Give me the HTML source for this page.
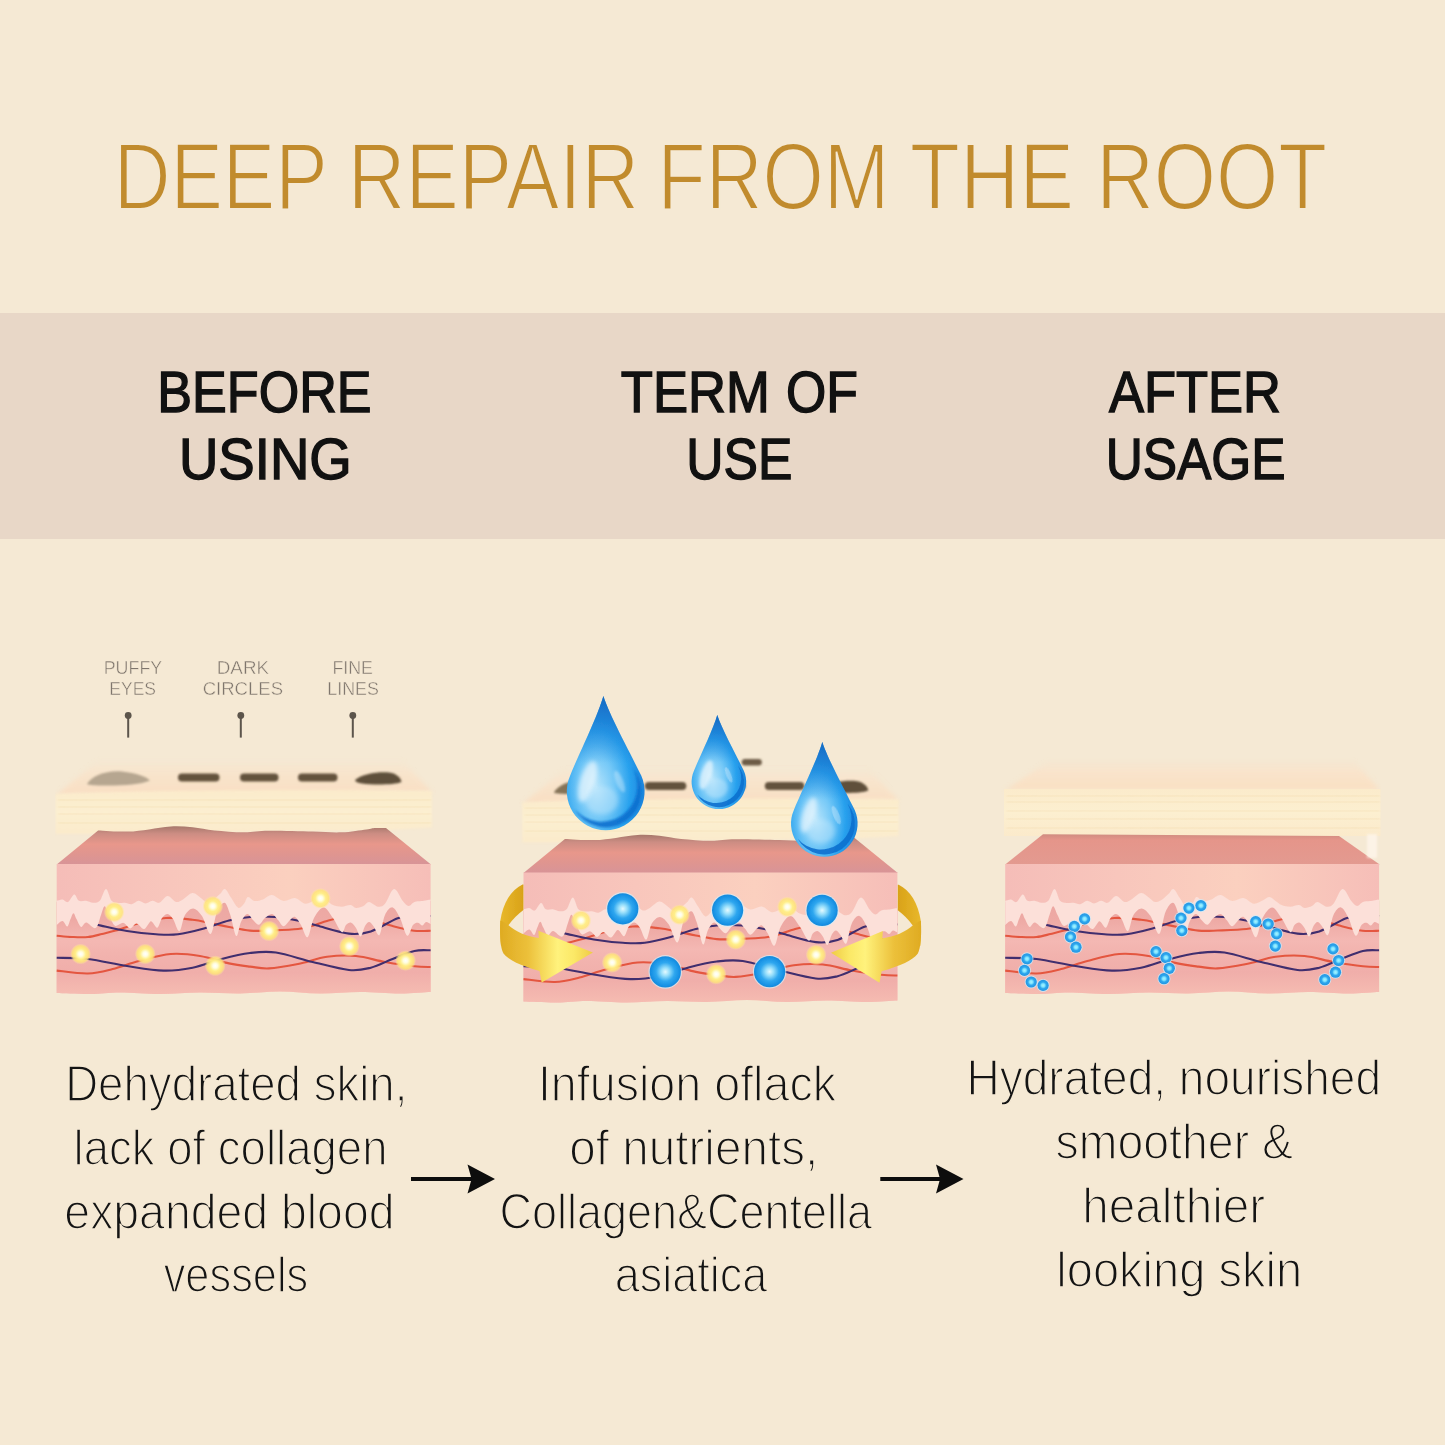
<!DOCTYPE html>
<html lang="en">
<head>
<meta charset="utf-8">
<title>Deep Repair From The Root</title>
<style>
 html,body{margin:0;padding:0;background:#f5e9d4;}
 body{width:1445px;height:1445px;overflow:hidden;font-family:'Liberation Sans', 'Noto Sans CJK SC', sans-serif;}
 #page{position:relative;width:1445px;height:1445px;background:#f5e9d4;overflow:hidden;}
 #band{position:absolute;left:0;top:313px;width:1445px;height:225.5px;background:#e8d7c7;}
 svg{position:absolute;left:0;top:0;display:block;}
 svg text{font-family:'Liberation Sans', 'Noto Sans CJK SC', sans-serif;white-space:pre;}
</style>
</head>
<body>
<div id="page">
<div id="band"></div>
<svg width="1445" height="1445" viewBox="0 0 1445 1445">

<defs>
 <linearGradient id="gFront" x1="0" y1="0" x2="1" y2="0">
  <stop offset="0" stop-color="#f5bdb8"/><stop offset=".3" stop-color="#f8c6bc"/><stop offset=".62" stop-color="#fbd0bf"/><stop offset="1" stop-color="#f6beb8"/>
 </linearGradient>
 <linearGradient id="gDark" x1="0" y1="889.0" x2="0" y2="993.0" gradientUnits="userSpaceOnUse">
  <stop offset="0" stop-color="#eba5a0"/><stop offset=".3" stop-color="#eeaaa5"/><stop offset=".5" stop-color="#f4b8b3"/><stop offset=".62" stop-color="#f2b3ae"/><stop offset=".8" stop-color="#f0aeaa"/><stop offset="1" stop-color="#f5bbb1"/>
 </linearGradient>
 <linearGradient id="gPinkTop" x1="0" y1="826" x2="0" y2="864" gradientUnits="userSpaceOnUse">
  <stop offset="0" stop-color="#a5766a"/><stop offset=".2" stop-color="#cc8d83"/><stop offset=".48" stop-color="#e8978b"/><stop offset=".75" stop-color="#df9590"/><stop offset="1" stop-color="#d89497"/>
 </linearGradient>
 <linearGradient id="gPinkTop3" x1="0" y1="834" x2="0" y2="864" gradientUnits="userSpaceOnUse">
  <stop offset="0" stop-color="#cf8c80"/><stop offset=".2" stop-color="#e5958a"/><stop offset="1" stop-color="#e39a90"/>
 </linearGradient>
 <linearGradient id="gEpiTop" x1="0" y1="758" x2="0" y2="794" gradientUnits="userSpaceOnUse">
  <stop offset="0" stop-color="#f7e6d0" stop-opacity="0"/><stop offset=".4" stop-color="#f8e4cc"/><stop offset="1" stop-color="#f9dfc3"/>
 </linearGradient>
 <linearGradient id="gEpiTop3" x1="0" y1="758" x2="0" y2="790" gradientUnits="userSpaceOnUse">
  <stop offset="0" stop-color="#f8e2ca" stop-opacity="0"/><stop offset=".5" stop-color="#f9e3ca"/><stop offset="1" stop-color="#f9e0c3"/>
 </linearGradient>
 <linearGradient id="gEpiFront" x1="0" y1="0" x2="0" y2="1">
  <stop offset="0" stop-color="#fbebcb"/><stop offset=".5" stop-color="#fcefd0"/><stop offset="1" stop-color="#fbeacb"/>
 </linearGradient>
 <radialGradient id="gYellow">
  <stop offset="0" stop-color="#ffffff"/><stop offset=".22" stop-color="#fffde0"/><stop offset=".5" stop-color="#ffee88"/><stop offset=".78" stop-color="#ffe47a" stop-opacity=".85"/><stop offset="1" stop-color="#ffe9a0" stop-opacity="0"/>
 </radialGradient>
 <radialGradient id="gBall" cx=".5" cy=".5" r=".5">
  <stop offset="0" stop-color="#e4faff"/><stop offset=".26" stop-color="#98dffb"/><stop offset=".6" stop-color="#2fa7ef"/><stop offset=".9" stop-color="#1891e4"/><stop offset="1" stop-color="#178adc"/>
 </radialGradient>
 <radialGradient id="gBead">
  <stop offset="0" stop-color="#a8f2ff"/><stop offset=".3" stop-color="#7fe4ff"/><stop offset=".58" stop-color="#2fa8ee"/><stop offset="1" stop-color="#2394e2"/>
 </radialGradient>
 <radialGradient id="gDrop" cx=".38" cy=".68" r=".64">
  <stop offset="0" stop-color="#b6e4fb"/><stop offset=".36" stop-color="#74c8f7"/><stop offset=".68" stop-color="#29a2ee"/><stop offset="1" stop-color="#1a80da"/>
 </radialGradient>
 <linearGradient id="gDropTip" x1="0" y1="0" x2="0" y2="1">
  <stop offset="0" stop-color="#1768c0" stop-opacity=".85"/><stop offset=".3" stop-color="#1b7bd2" stop-opacity=".35"/><stop offset=".5" stop-color="#1b7bd2" stop-opacity="0"/>
 </linearGradient>
 <linearGradient id="gGoldF" x1="0" y1="0" x2="1" y2="0">
  <stop offset="0" stop-color="#dfab22"/><stop offset=".3" stop-color="#ecc03a"/><stop offset=".62" stop-color="#fff27c"/><stop offset=".8" stop-color="#fbe866"/><stop offset="1" stop-color="#efcb45"/>
 </linearGradient>
 <linearGradient id="gGoldB" x1="0" y1="0" x2="1" y2="0">
  <stop offset="0" stop-color="#e8b82c"/><stop offset="1" stop-color="#d9a218"/>
 </linearGradient>
 <filter id="soft" x="0" y="0" width="100%" height="100%"><feGaussianBlur stdDeviation="0.45"/></filter>
 <filter id="b1" x="-20%" y="-20%" width="140%" height="140%"><feGaussianBlur stdDeviation="1"/></filter>
 <filter id="b06" x="-20%" y="-20%" width="140%" height="140%"><feGaussianBlur stdDeviation="0.6"/></filter>
 <filter id="b2" x="-20%" y="-30%" width="140%" height="160%"><feGaussianBlur stdDeviation="2"/></filter>
 <filter id="b3" x="-30%" y="-30%" width="160%" height="160%"><feGaussianBlur stdDeviation="3"/></filter>

 <!-- lower (dermis) part of a skin block, shared by the three illustrations -->
 <g id="dermis">
  <path d="M56.7,864.0 L430.6,864.0 L430.6,992.0 C425.5,992.2 411.8,993.5 400.0,993.5 C388.2,993.5 373.3,992.0 360.0,992.0 C346.7,992.0 333.3,993.6 320.0,993.5 C306.7,993.4 293.3,991.5 280.0,991.5 C266.7,991.5 253.3,993.3 240.0,993.5 C226.7,993.7 213.3,992.4 200.0,992.5 C186.7,992.6 173.3,994.0 160.0,994.0 C146.7,994.0 131.7,992.5 120.0,992.5 C108.3,992.5 100.5,993.9 90.0,994.0 C79.5,994.1 62.2,993.2 56.7,993.0 Z" fill="url(#gFront)"/>
  <path d="M56.7,902.3 C57.7,902.1 60.6,900.7 62.5,900.9 C64.4,901.1 66.0,904.3 68.0,903.5 C70.0,902.7 72.4,896.2 74.2,896.0 C76.0,895.8 77.0,901.2 79.0,902.3 C81.0,903.3 83.7,902.0 86.0,902.3 C88.3,902.6 90.6,904.3 92.9,904.3 C95.2,904.3 97.6,904.6 99.8,902.3 C102.0,900.0 104.0,890.5 106.0,890.5 C108.0,890.5 109.6,900.0 111.6,902.3 C113.6,904.6 115.8,904.2 118.0,904.5 C120.2,904.8 122.4,904.1 124.7,904.3 C127.0,904.5 129.4,906.0 131.7,905.7 C134.0,905.4 136.3,902.4 138.6,902.3 C140.9,902.2 143.2,905.0 145.5,905.0 C147.8,905.0 150.1,902.4 152.4,902.3 C154.7,902.2 156.8,905.1 159.3,904.3 C161.8,903.5 164.8,897.6 167.6,897.5 C170.4,897.4 173.4,902.9 176.0,903.5 C178.6,904.1 180.1,902.4 182.9,900.9 C185.7,899.4 189.6,894.7 192.6,894.5 C195.6,894.3 198.6,898.0 200.9,899.5 C203.2,901.0 204.4,903.2 206.4,903.5 C208.4,903.8 210.7,902.9 213.0,901.5 C215.3,900.1 218.2,897.1 220.2,895.3 C222.2,893.5 223.2,889.8 225.0,890.5 C226.8,891.2 229.1,896.4 231.3,899.5 C233.5,902.6 236.1,908.2 238.2,909.2 C240.3,910.2 242.2,907.3 243.8,905.5 C245.4,903.7 246.2,899.0 248.0,898.5 C249.8,898.0 252.0,902.1 254.5,902.5 C257.0,902.9 260.1,901.9 263.0,900.9 C265.9,899.9 268.6,896.2 272.0,896.5 C275.4,896.8 279.8,902.0 283.6,902.5 C287.4,903.0 291.4,899.0 295.0,899.5 C298.6,900.0 302.1,905.0 305.4,905.3 C308.7,905.6 312.4,902.6 315.0,901.5 C317.6,900.4 319.0,898.3 321.0,898.5 C323.0,898.7 325.0,901.2 327.0,902.5 C329.0,903.8 330.6,905.5 333.0,906.5 C335.4,907.5 338.8,908.2 341.7,908.2 C344.6,908.2 348.1,906.3 350.5,906.5 C352.9,906.7 353.8,909.3 356.0,909.5 C358.2,909.7 361.3,908.5 363.5,907.5 C365.7,906.5 366.6,903.4 369.0,903.5 C371.4,903.6 375.3,907.9 378.0,908.2 C380.7,908.5 382.3,908.2 385.0,905.3 C387.7,902.3 391.0,891.0 394.0,890.5 C397.0,890.0 400.4,899.7 402.8,902.5 C405.2,905.3 406.7,907.3 408.6,907.5 C410.5,907.7 412.2,904.3 414.4,903.5 C416.6,902.7 419.0,902.9 421.7,902.5 C424.4,902.1 429.1,901.2 430.6,900.9 L430.6,992.0 C425.5,992.2 411.8,993.5 400.0,993.5 C388.2,993.5 373.3,992.0 360.0,992.0 C346.7,992.0 333.3,993.6 320.0,993.5 C306.7,993.4 293.3,991.5 280.0,991.5 C266.7,991.5 253.3,993.3 240.0,993.5 C226.7,993.7 213.3,992.4 200.0,992.5 C186.7,992.6 173.3,994.0 160.0,994.0 C146.7,994.0 131.7,992.5 120.0,992.5 C108.3,992.5 100.5,993.9 90.0,994.0 C79.5,994.1 62.2,993.2 56.7,993.0 Z" fill="url(#gDark)"/>
  <g fill="none" stroke-width="2.1" stroke-linecap="butt" filter="url(#b06)">
   <path d="M56.7,935.7 C59.2,935.9 66.8,936.8 72.0,937.0 C77.2,937.2 83.0,937.5 88.0,937.0 C93.0,936.5 97.4,935.1 102.0,934.0 C106.6,932.9 109.3,932.4 115.6,930.6 C121.9,928.8 131.6,925.1 140.0,923.0 C148.4,920.9 157.2,918.5 166.0,918.0 C174.8,917.5 185.3,919.0 192.6,919.8 C199.9,920.6 203.9,921.8 210.0,923.0 C216.1,924.2 222.3,925.7 229.0,927.0 C235.7,928.3 243.3,930.0 250.0,930.6 C256.7,931.2 261.0,930.8 269.0,930.5 C277.0,930.2 290.3,929.9 298.0,929.0 C305.7,928.1 310.2,926.3 315.0,925.0 C319.8,923.7 322.0,922.3 327.0,921.0 C332.0,919.7 338.7,917.5 345.0,917.0 C351.3,916.5 357.3,916.6 365.0,918.0 C372.7,919.4 382.8,923.5 391.0,925.6 C399.2,927.7 407.4,929.9 414.0,930.7 C420.6,931.6 427.8,930.7 430.6,930.7" stroke="#e4573f"/>
   <path d="M96.0,924.6 C96.8,924.8 95.8,924.5 101.0,925.6 C106.2,926.7 117.8,929.5 127.0,931.0 C136.2,932.5 147.5,933.8 156.0,934.3 C164.5,934.8 170.0,935.3 178.0,934.3 C186.0,933.3 195.5,930.8 204.0,928.5 C212.5,926.2 221.3,922.4 229.0,920.5 C236.7,918.6 242.3,917.6 250.0,917.0 C257.7,916.4 266.7,916.3 275.0,917.0 C283.3,917.7 293.0,919.6 300.0,921.0 C307.0,922.4 308.8,923.5 317.0,925.6 C325.2,927.7 340.0,932.6 349.0,933.6 C358.0,934.6 362.7,934.0 370.8,931.4 C378.9,928.8 390.3,921.0 397.7,918.3 C405.1,915.6 409.5,915.4 415.0,915.0 C420.5,914.6 428.0,915.8 430.6,916.0" stroke="#402e6e"/>
   <path d="M56.7,970.6 C61.9,971.1 78.7,973.8 88.0,973.5 C97.3,973.2 104.2,971.1 112.7,969.0 C121.2,966.9 129.1,963.5 138.8,961.0 C148.5,958.5 160.6,954.8 170.8,954.0 C181.0,953.2 190.3,954.4 200.0,956.0 C209.7,957.6 220.7,961.6 229.0,963.4 C237.3,965.2 243.3,965.8 250.0,966.6 C256.7,967.4 261.0,968.8 269.0,968.4 C277.0,968.0 288.3,965.9 298.0,964.0 C307.7,962.1 317.3,958.1 327.0,956.8 C336.7,955.5 346.3,955.1 356.0,956.0 C365.7,956.9 375.3,960.3 385.0,962.0 C394.7,963.7 406.8,965.5 414.4,966.3 C422.0,967.1 427.9,966.9 430.6,967.0" stroke="#e4573f"/>
   <path d="M56.7,957.8 C61.9,958.0 76.3,957.6 88.0,959.0 C99.7,960.4 114.4,964.1 127.0,966.0 C139.6,967.9 152.6,970.3 163.5,970.6 C174.4,970.9 182.9,969.6 192.6,967.7 C202.3,965.8 212.1,961.5 221.7,959.0 C231.3,956.5 240.9,954.1 250.0,953.0 C259.1,951.9 265.6,951.0 276.0,952.5 C286.4,954.0 300.5,959.1 312.7,962.0 C324.9,964.9 339.3,969.0 349.0,970.0 C358.7,971.0 363.5,969.5 370.8,967.7 C378.1,965.9 385.3,961.8 392.6,959.0 C399.9,956.2 408.1,952.5 414.4,951.0 C420.7,949.5 427.9,950.4 430.6,950.3" stroke="#402e6e"/>
  </g>
  <path d="M56.7,900.8 C57.7,900.6 60.6,899.2 62.5,899.4 C64.4,899.6 66.0,902.8 68.0,902.0 C70.0,901.2 72.4,894.7 74.2,894.5 C76.0,894.3 77.0,899.8 79.0,900.8 C81.0,901.8 83.7,900.5 86.0,900.8 C88.3,901.1 90.6,902.8 92.9,902.8 C95.2,902.8 97.6,903.1 99.8,900.8 C102.0,898.5 104.0,889.0 106.0,889.0 C108.0,889.0 109.6,898.5 111.6,900.8 C113.6,903.1 115.8,902.7 118.0,903.0 C120.2,903.3 122.4,902.6 124.7,902.8 C127.0,903.0 129.4,904.5 131.7,904.2 C134.0,903.9 136.3,900.9 138.6,900.8 C140.9,900.7 143.2,903.5 145.5,903.5 C147.8,903.5 150.1,900.9 152.4,900.8 C154.7,900.7 156.8,903.6 159.3,902.8 C161.8,902.0 164.8,896.1 167.6,896.0 C170.4,895.9 173.4,901.4 176.0,902.0 C178.6,902.6 180.1,900.9 182.9,899.4 C185.7,897.9 189.6,893.2 192.6,893.0 C195.6,892.8 198.6,896.5 200.9,898.0 C203.2,899.5 204.4,901.7 206.4,902.0 C208.4,902.3 210.7,901.4 213.0,900.0 C215.3,898.6 218.2,895.6 220.2,893.8 C222.2,892.0 223.2,888.3 225.0,889.0 C226.8,889.7 229.1,894.9 231.3,898.0 C233.5,901.1 236.1,906.7 238.2,907.7 C240.3,908.7 242.2,905.8 243.8,904.0 C245.4,902.2 246.2,897.5 248.0,897.0 C249.8,896.5 252.0,900.6 254.5,901.0 C257.0,901.4 260.1,900.4 263.0,899.4 C265.9,898.4 268.6,894.7 272.0,895.0 C275.4,895.3 279.8,900.5 283.6,901.0 C287.4,901.5 291.4,897.5 295.0,898.0 C298.6,898.5 302.1,903.5 305.4,903.8 C308.7,904.1 312.4,901.1 315.0,900.0 C317.6,898.9 319.0,896.8 321.0,897.0 C323.0,897.2 325.0,899.7 327.0,901.0 C329.0,902.3 330.6,904.0 333.0,905.0 C335.4,906.0 338.8,906.7 341.7,906.7 C344.6,906.7 348.1,904.8 350.5,905.0 C352.9,905.2 353.8,907.8 356.0,908.0 C358.2,908.2 361.3,907.0 363.5,906.0 C365.7,905.0 366.6,901.9 369.0,902.0 C371.4,902.1 375.3,906.4 378.0,906.7 C380.7,907.0 382.3,906.8 385.0,903.8 C387.7,900.8 391.0,889.5 394.0,889.0 C397.0,888.5 400.4,898.2 402.8,901.0 C405.2,903.8 406.7,905.8 408.6,906.0 C410.5,906.2 412.2,902.8 414.4,902.0 C416.6,901.2 419.0,901.4 421.7,901.0 C424.4,900.6 429.1,899.7 430.6,899.4 L430.6,924.0 C429.8,923.7 427.4,921.7 426.0,922.0 C424.6,922.3 423.7,925.5 422.4,925.6 C421.1,925.7 419.6,922.8 418.0,922.7 C416.4,922.6 414.8,922.8 413.0,925.0 C411.2,927.2 409.3,936.9 407.1,935.7 C404.9,934.5 402.4,922.7 400.0,918.0 C397.6,913.3 395.1,907.9 392.6,907.4 C390.1,906.9 387.2,910.4 385.0,915.0 C382.8,919.6 381.3,933.0 379.5,935.0 C377.7,937.0 375.7,929.2 374.0,927.0 C372.3,924.8 370.8,922.2 369.3,922.0 C367.8,921.8 366.4,923.6 365.0,926.0 C363.6,928.4 362.1,936.2 360.6,936.5 C359.1,936.8 357.6,930.3 356.0,928.0 C354.4,925.7 352.9,923.2 351.2,922.7 C349.5,922.2 347.6,923.4 346.0,925.0 C344.4,926.6 343.9,933.3 341.7,932.1 C339.5,930.9 336.0,922.1 333.0,918.0 C330.0,913.9 326.8,907.4 323.6,907.4 C320.4,907.4 316.7,913.0 314.0,918.0 C311.3,923.0 309.8,936.0 307.6,937.2 C305.4,938.4 303.1,928.4 301.0,925.0 C298.9,921.6 297.0,917.7 295.2,916.9 C293.4,916.1 291.9,918.4 290.0,920.0 C288.1,921.6 285.6,926.3 283.6,926.3 C281.6,926.3 279.9,922.0 278.0,920.0 C276.1,918.0 274.2,914.3 272.0,914.0 C269.8,913.7 267.2,916.2 265.0,918.0 C262.8,919.8 260.9,924.5 258.9,924.8 C256.9,925.1 254.9,921.8 253.0,920.0 C251.1,918.2 249.3,913.7 247.3,914.0 C245.3,914.3 242.8,918.3 241.0,922.0 C239.2,925.7 238.0,937.3 236.2,936.0 C234.4,934.7 232.0,919.5 230.0,914.0 C228.0,908.5 226.6,903.1 224.4,902.8 C222.2,902.5 219.3,906.8 217.0,912.0 C214.7,917.2 213.1,933.3 210.6,934.0 C208.1,934.7 204.9,920.3 202.0,916.0 C199.1,911.7 196.1,908.6 193.3,908.4 C190.5,908.2 187.3,911.2 185.0,915.0 C182.7,918.8 181.4,930.5 179.4,931.2 C177.4,931.9 175.0,921.9 173.0,919.0 C171.0,916.1 169.4,914.1 167.6,913.9 C165.8,913.7 163.7,915.7 162.0,918.0 C160.3,920.3 159.1,927.2 157.3,927.8 C155.5,928.4 153.2,921.3 151.0,921.5 C148.8,921.7 146.5,928.8 144.1,929.1 C141.7,929.5 138.8,923.7 136.5,923.6 C134.2,923.5 132.5,928.5 130.3,928.4 C128.1,928.3 126.0,923.3 123.4,922.9 C120.9,922.5 117.4,927.0 115.0,925.7 C112.6,924.4 110.7,918.2 109.0,915.0 C107.3,911.8 106.0,906.3 104.7,906.3 C103.4,906.3 102.5,911.4 101.0,915.0 C99.5,918.6 98.2,926.8 95.7,928.0 C93.2,929.2 88.7,922.7 86.3,922.5 C83.9,922.3 82.7,927.6 81.1,927.0 C79.5,926.4 77.8,921.3 76.5,919.0 C75.2,916.7 74.5,913.2 73.5,913.2 C72.5,913.2 71.5,916.8 70.5,919.0 C69.5,921.2 68.6,926.2 67.3,926.5 C66.0,926.8 64.3,921.2 62.5,921.0 C60.7,920.8 57.7,924.3 56.7,925.0 Z" fill="#fce0d9" filter="url(#b06)"/>
 </g>

 <!-- water drop, unit: tip at (-0.06,0), circle r=1 centred at (0,2.45) -->
 <g id="drop">
  <path id="dropShape" d="M-0.06,0 C0.1,0.5 0.55,1.3 0.913,2.042 A1,1 0 1 1 -0.913,2.042 C-0.6,1.3 -0.2,0.5 -0.06,0 Z" fill="url(#gDrop)"/>
  <path d="M-0.06,0 C0.1,0.5 0.55,1.3 0.913,2.042 A1,1 0 1 1 -0.913,2.042 C-0.6,1.3 -0.2,0.5 -0.06,0 Z" fill="url(#gDropTip)"/>
  <path d="M0.70,1.86 A0.92,0.92 0 1 1 -0.80,2.91 A0.92,0.92 0 0 0 0.70,1.86 Z" fill="#0e70cf" opacity=".9" filter="url(#bd)"/>
  <ellipse cx="-0.42" cy="2.2" rx="0.2" ry="0.55" fill="#ffffff" opacity=".6" transform="rotate(17 -0.44 2.05)" filter="url(#bd2)"/>
  <ellipse cx="-0.1" cy="2.68" rx="0.42" ry="0.36" fill="#c8eafd" opacity=".4" filter="url(#bd2)"/>
  <ellipse cx="0.36" cy="2.2" rx="0.09" ry="0.3" fill="#ffffff" opacity=".3" transform="rotate(-22 0.36 2.2)" filter="url(#bd)"/>
 </g>
 <filter id="bd" x="-30%" y="-30%" width="160%" height="160%"><feGaussianBlur stdDeviation="0.022"/></filter>
 <filter id="bd2" x="-40%" y="-40%" width="180%" height="180%"><feGaussianBlur stdDeviation="0.06"/></filter>
</defs>
<g id="art" filter="url(#soft)"><g transform="translate(0,0)"><path d="M56,795 L98,761 L402,761 L432,792 Z" fill="url(#gEpiTop)" filter="url(#b2)"/><path d="M55.5,794 C120,791 300,789 432,791 L432,827.5 L386,830 L98,834 L55.5,834 Z" fill="url(#gEpiFront)" filter="url(#b1)"/><path d="M58,800 C150,798.5 260,801.2 431,799.5" stroke="#f1d7a8" stroke-width="2.4" fill="none" opacity=".32" filter="url(#b1)"/><path d="M58,807 C150,805.5 260,808.2 431,806.5" stroke="#f1d7a8" stroke-width="2.4" fill="none" opacity=".32" filter="url(#b1)"/><path d="M58,814 C150,812.5 260,815.2 431,813.5" stroke="#f1d7a8" stroke-width="2.4" fill="none" opacity=".32" filter="url(#b1)"/><path d="M58,823 C150,821.5 260,824.2 431,822.5" stroke="#f1d7a8" stroke-width="2.4" fill="none" opacity=".32" filter="url(#b1)"/></g><g transform="translate(0,0)" filter="url(#b1)"><path d="M87,784 C92,775 108,770 122,771.5 C136,773 147,777 150,780.5 C140,785 118,786 100,785.5 C93,785.3 88,785 87,784 Z" fill="#b6a690"/><rect x="178" y="773.5" width="41.5" height="8" rx="4" fill="#64533e"/><rect x="240" y="773.5" width="38.5" height="8" rx="4" fill="#64533e"/><rect x="298" y="773.5" width="39.5" height="8" rx="4" fill="#64533e"/><path d="M355,780 C362,774 378,771.5 389,772.5 C397,773.5 401,778 401.5,782 C395,785 372,785 362,783.5 C358,783 355,781.5 355,780 Z" fill="#5f4f3b"/></g><g transform="translate(0,0)"><path d="M98.1,830.4 C102.9,830.6 118.7,831.8 127.2,831.6 C135.7,831.4 141.7,830.2 149.0,829.4 C156.3,828.5 163.5,826.9 170.8,826.5 C178.1,826.1 185.3,826.6 192.6,827.2 C199.9,827.9 205.9,829.5 214.4,830.4 C222.9,831.2 234.4,832.2 243.5,832.3 C252.6,832.4 257.5,830.9 269.0,830.8 C280.5,830.7 300.6,831.4 312.7,831.6 C324.8,831.9 332.8,832.7 341.7,832.3 C350.6,831.9 360.8,830.1 366.4,829.4 C372.0,828.7 371.9,828.2 375.2,828.0 C378.5,827.8 384.2,828.0 386.0,828.0 L431,864.5 L56.7,864.5 Z" fill="url(#gPinkTop)"/></g><use href="#dermis"/><circle cx="114.2" cy="912.0" r="10.5" fill="url(#gYellow)"/><circle cx="212.8" cy="906.2" r="10.5" fill="url(#gYellow)"/><circle cx="320.5" cy="898.4" r="10.5" fill="url(#gYellow)"/><circle cx="269.0" cy="931.0" r="10.5" fill="url(#gYellow)"/><circle cx="349.3" cy="946.3" r="10.5" fill="url(#gYellow)"/><circle cx="80.6" cy="954.0" r="10.5" fill="url(#gYellow)"/><circle cx="145.3" cy="954.0" r="10.5" fill="url(#gYellow)"/><circle cx="215.2" cy="965.8" r="10.5" fill="url(#gYellow)"/><circle cx="405.6" cy="960.6" r="10.5" fill="url(#gYellow)"/><g transform="translate(466.8,8.5)"><path d="M56,795 L98,761 L402,761 L432,792 Z" fill="url(#gEpiTop)" filter="url(#b2)"/><path d="M55.5,794 C120,791 300,789 432,791 L432,827.5 L386,830 L98,834 L55.5,834 Z" fill="url(#gEpiFront)" filter="url(#b1)"/><path d="M58,800 C150,798.5 260,801.2 431,799.5" stroke="#f1d7a8" stroke-width="2.4" fill="none" opacity=".32" filter="url(#b1)"/><path d="M58,807 C150,805.5 260,808.2 431,806.5" stroke="#f1d7a8" stroke-width="2.4" fill="none" opacity=".32" filter="url(#b1)"/><path d="M58,814 C150,812.5 260,815.2 431,813.5" stroke="#f1d7a8" stroke-width="2.4" fill="none" opacity=".32" filter="url(#b1)"/><path d="M58,823 C150,821.5 260,824.2 431,822.5" stroke="#f1d7a8" stroke-width="2.4" fill="none" opacity=".32" filter="url(#b1)"/></g><g transform="translate(466.8,8.5)" filter="url(#b1)"><path d="M87,784 C92,775 108,770 122,771.5 C136,773 147,777 150,780.5 C140,785 118,786 100,785.5 C93,785.3 88,785 87,784 Z" fill="#857359"/><rect x="178" y="773.5" width="41.5" height="8" rx="4" fill="#64533e"/><rect x="240" y="773.5" width="38.5" height="8" rx="4" fill="#64533e"/><rect x="298" y="773.5" width="39.5" height="8" rx="4" fill="#64533e"/><path d="M355,780 C362,774 378,771.5 389,772.5 C397,773.5 401,778 401.5,782 C395,785 372,785 362,783.5 C358,783 355,781.5 355,780 Z" fill="#5f4f3b"/><rect x="275" y="750.5" width="20" height="6.5" rx="3.2" fill="#6d5c47"/></g><g transform="translate(466.8,8.5)"><path d="M98.1,830.4 C102.9,830.6 118.7,831.8 127.2,831.6 C135.7,831.4 141.7,830.2 149.0,829.4 C156.3,828.5 163.5,826.9 170.8,826.5 C178.1,826.1 185.3,826.6 192.6,827.2 C199.9,827.9 205.9,829.5 214.4,830.4 C222.9,831.2 234.4,832.2 243.5,832.3 C252.6,832.4 257.5,830.9 269.0,830.8 C280.5,830.7 300.6,831.4 312.7,831.6 C324.8,831.9 332.8,832.7 341.7,832.3 C350.6,831.9 360.8,830.1 366.4,829.4 C372.0,828.7 371.9,828.2 375.2,828.0 C378.5,827.8 384.2,828.0 386.0,828.0 L431,864.5 L56.7,864.5 Z" fill="url(#gPinkTop)"/></g><use href="#dermis" transform="translate(466.8,8.5)"/><circle cx="581.0" cy="920.5" r="10.5" fill="url(#gYellow)"/><circle cx="679.6" cy="914.7" r="10.5" fill="url(#gYellow)"/><circle cx="787.3" cy="906.9" r="10.5" fill="url(#gYellow)"/><circle cx="735.8" cy="939.5" r="10.5" fill="url(#gYellow)"/><circle cx="816.1" cy="954.8" r="10.5" fill="url(#gYellow)"/><circle cx="612.1" cy="962.5" r="10.5" fill="url(#gYellow)"/><circle cx="716.2" cy="974.2" r="10.5" fill="url(#gYellow)"/><circle cx="622.8" cy="908.8" r="16.8" fill="#d6ecf7" opacity=".7"/><circle cx="622.8" cy="908.8" r="15.6" fill="url(#gBall)"/><circle cx="727.6" cy="910.2" r="16.8" fill="#d6ecf7" opacity=".7"/><circle cx="727.6" cy="910.2" r="15.6" fill="url(#gBall)"/><circle cx="822.1" cy="910.4" r="16.8" fill="#d6ecf7" opacity=".7"/><circle cx="822.1" cy="910.4" r="15.6" fill="url(#gBall)"/><circle cx="665.3" cy="971.9" r="16.8" fill="#d6ecf7" opacity=".7"/><circle cx="665.3" cy="971.9" r="15.6" fill="url(#gBall)"/><circle cx="769.6" cy="971.7" r="16.8" fill="#d6ecf7" opacity=".7"/><circle cx="769.6" cy="971.7" r="15.6" fill="url(#gBall)"/><g><path d="M522.5,884.5 C511,890 503,903 500.3,921 C500,930 500.2,938 501,946 L508.4,925.3 C513,919 518,914 523.4,910 L523.4,884.5 Z" fill="url(#gGoldB)"/><path d="M500.3,921 C499.5,936 500.5,948 503.5,953.5 C509,960 520,965.5 539.5,971 L541.7,982.5 L592.9,952.5 L538.4,930.8 L538.8,938 C527,936.5 515,931.5 508.2,925 C504,922 501,920 500.3,921 Z" fill="url(#gGoldF)"/></g><g transform="translate(1421.2,0.2) scale(-1,1)"><path d="M522.5,884.5 C511,890 503,903 500.3,921 C500,930 500.2,938 501,946 L508.4,925.3 C513,919 518,914 523.4,910 L523.4,884.5 Z" fill="url(#gGoldB)"/><path d="M500.3,921 C499.5,936 500.5,948 503.5,953.5 C509,960 520,965.5 539.5,971 L541.7,982.5 L590.2,952.5 L538.4,930.8 L538.8,938 C527,936.5 515,931.5 508.2,925 C504,922 501,920 500.3,921 Z" fill="url(#gGoldF)"/></g><use href="#drop" transform="translate(605.7,696) scale(38.9)"/><use href="#drop" transform="translate(718.9,714.9) scale(27.3)"/><use href="#drop" transform="translate(824.3,741.9) scale(33.3)"/><g transform="translate(948.5,0)"><path d="M56.7,790 L99,762 L406,762 L431.5,790 Z" fill="url(#gEpiTop3)" filter="url(#b2)"/><rect x="55.5" y="789" width="376.5" height="47" fill="url(#gEpiFront)" filter="url(#b06)"/><path d="M58,796 C150,794.5 260,797.2 431,795.5" stroke="#f1d7a8" stroke-width="2.4" fill="none" opacity=".32" filter="url(#b1)"/><path d="M58,802 C150,800.5 260,803.2 431,801.5" stroke="#f1d7a8" stroke-width="2.4" fill="none" opacity=".32" filter="url(#b1)"/><path d="M58,811 C150,809.5 260,812.2 431,810.5" stroke="#f1d7a8" stroke-width="2.4" fill="none" opacity=".32" filter="url(#b1)"/><path d="M58,819 C150,817.5 260,820.2 431,818.5" stroke="#f1d7a8" stroke-width="2.4" fill="none" opacity=".32" filter="url(#b1)"/><path d="M58,828 C150,826.5 260,829.2 431,827.5" stroke="#f1d7a8" stroke-width="2.4" fill="none" opacity=".32" filter="url(#b1)"/></g><g transform="translate(948.5,0)"><path d="M94.5,834.3 L390.5,836 L431.2,864.5 L56.7,864.5 Z" fill="url(#gPinkTop3)"/></g><rect x="1367" y="834" width="10" height="24" fill="#fff7ee" opacity=".7" filter="url(#b1)"/><use href="#dermis" transform="translate(948.5,0)"/><circle cx="1084.6" cy="918.9" r="6.5" fill="#cfeaf6" opacity=".8"/><circle cx="1084.6" cy="918.9" r="5.6" fill="url(#gBead)"/><circle cx="1074.3" cy="926.4" r="6.5" fill="#cfeaf6" opacity=".8"/><circle cx="1074.3" cy="926.4" r="5.6" fill="url(#gBead)"/><circle cx="1070.5" cy="936.9" r="6.5" fill="#cfeaf6" opacity=".8"/><circle cx="1070.5" cy="936.9" r="5.6" fill="url(#gBead)"/><circle cx="1076.0" cy="947.2" r="6.5" fill="#cfeaf6" opacity=".8"/><circle cx="1076.0" cy="947.2" r="5.6" fill="url(#gBead)"/><circle cx="1027.0" cy="958.8" r="6.5" fill="#cfeaf6" opacity=".8"/><circle cx="1027.0" cy="958.8" r="5.6" fill="url(#gBead)"/><circle cx="1024.5" cy="970.4" r="6.5" fill="#cfeaf6" opacity=".8"/><circle cx="1024.5" cy="970.4" r="5.6" fill="url(#gBead)"/><circle cx="1031.2" cy="982.0" r="6.5" fill="#cfeaf6" opacity=".8"/><circle cx="1031.2" cy="982.0" r="5.6" fill="url(#gBead)"/><circle cx="1043.1" cy="985.4" r="6.5" fill="#cfeaf6" opacity=".8"/><circle cx="1043.1" cy="985.4" r="5.6" fill="url(#gBead)"/><circle cx="1200.9" cy="905.6" r="6.5" fill="#cfeaf6" opacity=".8"/><circle cx="1200.9" cy="905.6" r="5.6" fill="url(#gBead)"/><circle cx="1188.9" cy="908.1" r="6.5" fill="#cfeaf6" opacity=".8"/><circle cx="1188.9" cy="908.1" r="5.6" fill="url(#gBead)"/><circle cx="1181.0" cy="918.1" r="6.5" fill="#cfeaf6" opacity=".8"/><circle cx="1181.0" cy="918.1" r="5.6" fill="url(#gBead)"/><circle cx="1181.8" cy="930.6" r="6.5" fill="#cfeaf6" opacity=".8"/><circle cx="1181.8" cy="930.6" r="5.6" fill="url(#gBead)"/><circle cx="1156.0" cy="951.6" r="6.5" fill="#cfeaf6" opacity=".8"/><circle cx="1156.0" cy="951.6" r="5.6" fill="url(#gBead)"/><circle cx="1166.0" cy="957.6" r="6.5" fill="#cfeaf6" opacity=".8"/><circle cx="1166.0" cy="957.6" r="5.6" fill="url(#gBead)"/><circle cx="1169.3" cy="968.3" r="6.5" fill="#cfeaf6" opacity=".8"/><circle cx="1169.3" cy="968.3" r="5.6" fill="url(#gBead)"/><circle cx="1164.0" cy="978.7" r="6.5" fill="#cfeaf6" opacity=".8"/><circle cx="1164.0" cy="978.7" r="5.6" fill="url(#gBead)"/><circle cx="1255.7" cy="921.6" r="6.5" fill="#cfeaf6" opacity=".8"/><circle cx="1255.7" cy="921.6" r="5.6" fill="url(#gBead)"/><circle cx="1268.2" cy="924.0" r="6.5" fill="#cfeaf6" opacity=".8"/><circle cx="1268.2" cy="924.0" r="5.6" fill="url(#gBead)"/><circle cx="1276.6" cy="933.9" r="6.5" fill="#cfeaf6" opacity=".8"/><circle cx="1276.6" cy="933.9" r="5.6" fill="url(#gBead)"/><circle cx="1275.3" cy="946.1" r="6.5" fill="#cfeaf6" opacity=".8"/><circle cx="1275.3" cy="946.1" r="5.6" fill="url(#gBead)"/><circle cx="1333.0" cy="948.9" r="6.5" fill="#cfeaf6" opacity=".8"/><circle cx="1333.0" cy="948.9" r="5.6" fill="url(#gBead)"/><circle cx="1338.6" cy="960.5" r="6.5" fill="#cfeaf6" opacity=".8"/><circle cx="1338.6" cy="960.5" r="5.6" fill="url(#gBead)"/><circle cx="1335.5" cy="972.2" r="6.5" fill="#cfeaf6" opacity=".8"/><circle cx="1335.5" cy="972.2" r="5.6" fill="url(#gBead)"/><circle cx="1324.8" cy="979.7" r="6.5" fill="#cfeaf6" opacity=".8"/><circle cx="1324.8" cy="979.7" r="5.6" fill="url(#gBead)"/><g filter="url(#b06)"><circle cx="128.2" cy="715.5" r="3.4" fill="#5c544c"/><rect x="127.19999999999999" y="715" width="2" height="22.6" fill="#5c544c"/><circle cx="240.8" cy="715.5" r="3.4" fill="#5c544c"/><rect x="239.8" y="715" width="2" height="22.6" fill="#5c544c"/><circle cx="352.8" cy="715.5" r="3.4" fill="#5c544c"/><rect x="351.8" y="715" width="2" height="22.6" fill="#5c544c"/></g></g>
<g id="copy" opacity="0.999">
<g id="title">
 <text class="heading" font-size="94.6" fill="#c18b2d" stroke="#f5e9d4" stroke-width="2.0"><tspan id="t_w1" x="113.63" y="209.4" textLength="212.65" lengthAdjust="spacingAndGlyphs">DEEP</tspan> <tspan id="t_w2" x="347.68" y="209.4" textLength="291.59" lengthAdjust="spacingAndGlyphs">REPAIR</tspan> <tspan id="t_w3" x="657.50" y="209.4" textLength="231.97" lengthAdjust="spacingAndGlyphs">FROM</tspan> <tspan id="t_w4" x="909.68" y="209.4" textLength="164.51" lengthAdjust="spacingAndGlyphs">THE</tspan> <tspan id="t_w5" x="1096.14" y="209.4" textLength="231.00" lengthAdjust="spacingAndGlyphs">ROOT</tspan></text>
</g>
<g id="tabs">
 <text class="tab" font-size="57.7" fill="#111" stroke="#111" stroke-width="1.4"><tspan id="h1a" x="157.28" y="411.7" textLength="214.38" lengthAdjust="spacingAndGlyphs">BEFORE</tspan> <tspan id="h1b" x="178.93" y="479.4" textLength="172.84" lengthAdjust="spacingAndGlyphs">USING</tspan></text>
 <text class="tab" font-size="57.7" fill="#111" stroke="#111" stroke-width="1.4"><tspan id="h2a" x="620.79" y="411.7" textLength="149.14" lengthAdjust="spacingAndGlyphs">TERM</tspan> <tspan id="h2a2" x="785.97" y="411.7" textLength="72.00" lengthAdjust="spacingAndGlyphs">OF</tspan> <tspan id="h2b" x="686.32" y="479.4" textLength="106.07" lengthAdjust="spacingAndGlyphs">USE</tspan></text>
 <text class="tab" font-size="57.7" fill="#111" stroke="#111" stroke-width="1.4"><tspan id="h3a" x="1108.99" y="411.7" textLength="172.03" lengthAdjust="spacingAndGlyphs">AFTER</tspan> <tspan id="h3b" x="1105.68" y="479.4" textLength="179.98" lengthAdjust="spacingAndGlyphs">USAGE</tspan></text>
</g>
<g id="labels">
 <text class="label" font-size="19.2" fill="#7f766d" stroke="#f5e9d4" stroke-width="0.45" filter="url(#b06)"><tspan id="l1a" x="103.69" y="673.9" textLength="58.17" lengthAdjust="spacingAndGlyphs">PUFFY</tspan> <tspan id="l1b" x="109.34" y="695.4" textLength="46.73" lengthAdjust="spacingAndGlyphs">EYES</tspan></text>
 <text class="label" font-size="19.2" fill="#7f766d" stroke="#f5e9d4" stroke-width="0.45" filter="url(#b06)"><tspan id="l2a" x="216.78" y="673.9" textLength="52.31" lengthAdjust="spacingAndGlyphs">DARK</tspan> <tspan id="l2b" x="202.66" y="695.4" textLength="80.37" lengthAdjust="spacingAndGlyphs">CIRCLES</tspan></text>
 <text class="label" font-size="19.2" fill="#7f766d" stroke="#f5e9d4" stroke-width="0.45" filter="url(#b06)"><tspan id="l3a" x="332.44" y="673.9" textLength="40.47" lengthAdjust="spacingAndGlyphs">FINE</tspan> <tspan id="l3b" x="327.31" y="695.4" textLength="51.56" lengthAdjust="spacingAndGlyphs">LINES</tspan></text>
</g>
<g id="captions">
 <text class="caption" font-size="50.3" fill="#141414" stroke="#f5e9d4" stroke-width="1.6"><tspan id="c1a" x="65.19" y="1101.0" textLength="342.23" lengthAdjust="spacingAndGlyphs">Dehydrated skin,</tspan> <tspan id="c1b" x="73.62" y="1164.8" textLength="313.84" lengthAdjust="spacingAndGlyphs">lack of collagen</tspan> <tspan id="c1c" x="64.34" y="1228.7" textLength="330.15" lengthAdjust="spacingAndGlyphs">expanded blood</tspan> <tspan id="c1d" x="163.64" y="1292.4" textLength="144.64" lengthAdjust="spacingAndGlyphs">vessels</tspan></text>
 <text class="caption" font-size="50.3" fill="#141414" stroke="#f5e9d4" stroke-width="1.6"><tspan id="c2a" x="537.88" y="1101.0" textLength="298.17" lengthAdjust="spacingAndGlyphs">Infusion oflack</tspan> <tspan id="c2b" x="569.22" y="1164.8" textLength="249.05" lengthAdjust="spacingAndGlyphs">of nutrients,</tspan> <tspan id="c2c" x="499.46" y="1228.7" textLength="372.55" lengthAdjust="spacingAndGlyphs">Collagen&amp;Centella</tspan> <tspan id="c2d" x="614.73" y="1292.4" textLength="152.71" lengthAdjust="spacingAndGlyphs">asiatica</tspan></text>
 <text class="caption" font-size="50.3" fill="#141414" stroke="#f5e9d4" stroke-width="1.6"><tspan id="c3a" x="966.43" y="1095.4" textLength="414.64" lengthAdjust="spacingAndGlyphs">Hydrated, nourished</tspan> <tspan id="c3b" x="1055.47" y="1159.1" textLength="237.58" lengthAdjust="spacingAndGlyphs">smoother &amp;</tspan> <tspan id="c3c" x="1082.27" y="1222.8" textLength="182.89" lengthAdjust="spacingAndGlyphs">healthier</tspan> <tspan id="c3d" x="1056.27" y="1286.5" textLength="245.87" lengthAdjust="spacingAndGlyphs">looking skin</tspan></text>
</g>
</g>
<path d="M411,1177 L471,1177 L467.5,1164.5 L495,1179 L467.5,1193.5 L471,1181 L411,1181 Z" fill="#0d0d0d"/><path d="M880.3,1177 L939.5,1177 L936.0,1164.5 L963.5,1179 L936.0,1193.5 L939.5,1181 L880.3,1181 Z" fill="#0d0d0d"/>
</svg>
</div>
</body>
</html>
